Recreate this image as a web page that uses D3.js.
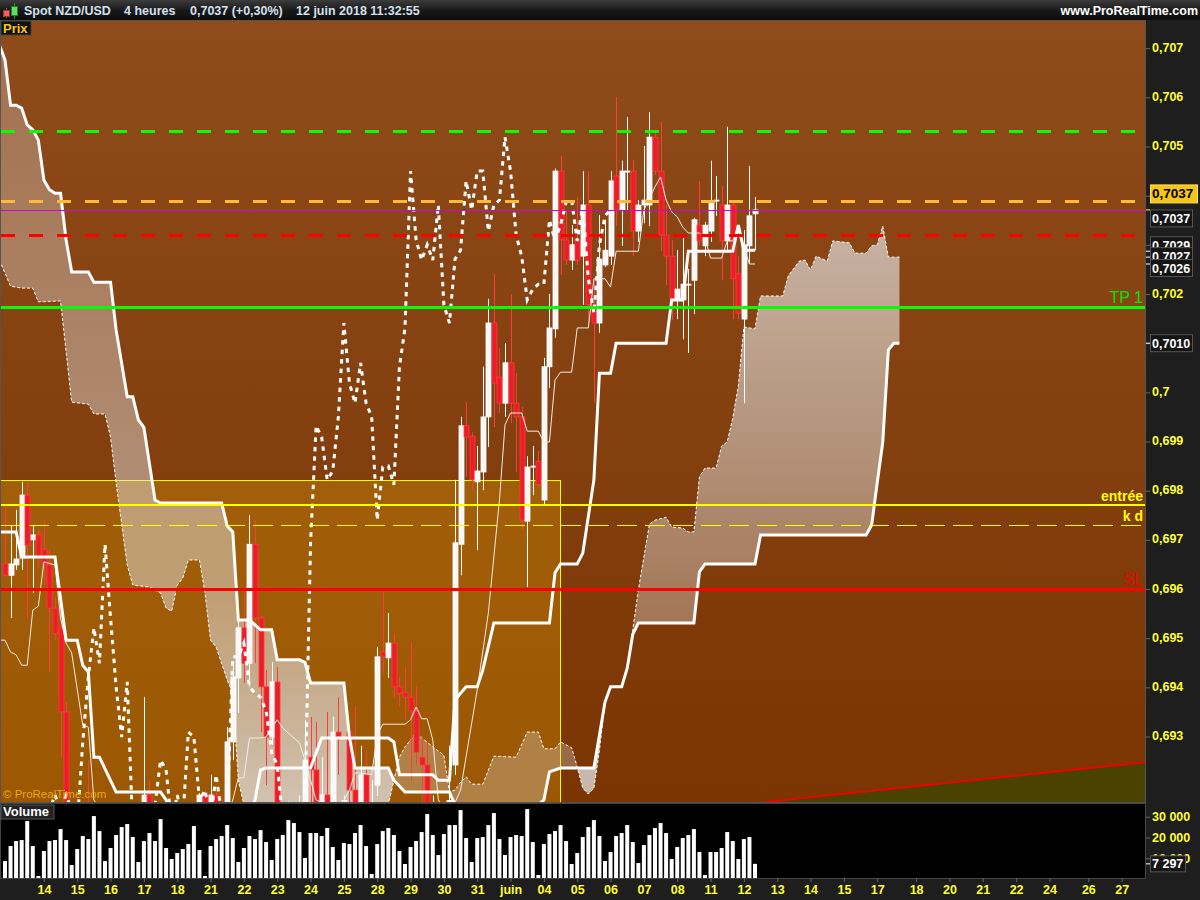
<!DOCTYPE html>
<html><head><meta charset="utf-8">
<style>
html,body{margin:0;padding:0;background:#1e1e1e;}
svg{display:block;}
text{font-family:"Liberation Sans",Arial,sans-serif;}
</style>
<script src="https://cdn.jsdelivr.net/npm/d3@7"></script>
</head><body><div id="c"></div>
<script>
// prices are stored in points: price x 100000
const opens=[69651,69628,69649,69663,69791,69700,69710,69681,69649,69561,69521,69350,69110,69060,69090,69050,69020,69060,69090,69070,69100,69120,69100,69130,69140,69130,69181,69120,69100,69120,69130,69110,69130,69120,69140,69150,69181,69140,69181,69150,69120,69289,69419,69521,69449,69691,69541,69401,69299,69411,69110,69140,69120,69150,69130,69258,69232,69100,69181,69130,69309,69160,69309,69191,69130,69222,69130,69201,69472,69460,69490,69401,69390,69380,69352,69258,69242,69130,69160,69120,69100,69242,69691,69932,69911,69818,69838,69950,70141,70031,69978,70060,69978,69950,69738,69848,69860,69781,70052,70129,70450,70310,70269,70310,70277,70381,70178,70141,70259,70277,70440,70371,70449,70450,70328,70381,70381,70519,70450,70320,70277,70188,70188,70218,70228,70340,70298,70328,70389,70381,70308,70381,70241,70149,70298,70363];
const closes=[69628,69651,69661,69791,69689,69710,69665,69649,69561,69510,69350,69110,69060,69090,69050,69020,69060,69090,69070,69100,69120,69100,69130,69140,69150,69181,69120,69100,69120,69130,69110,69130,69120,69140,69150,69181,69150,69181,69150,69120,69289,69421,69521,69449,69691,69541,69401,69299,69411,69110,69140,69120,69150,69160,69252,69232,69120,69181,69130,69309,69299,69170,69191,69130,69222,69140,69150,69462,69462,69490,69401,69388,69380,69352,69268,69242,69130,69160,69120,69090,69170,69694,69932,69909,69822,69840,69950,70141,70019,69978,70060,69978,69950,69740,69848,69850,69812,70052,70131,70450,70310,70269,70300,70269,70381,70178,70141,70271,70289,70430,70371,70450,70450,70328,70381,70391,70519,70450,70320,70277,70188,70210,70220,70220,70351,70308,70340,70387,70391,70308,70381,70231,70161,70300,70359,70371];
const highs=[69767,69730,69761,69818,69818,69728,69720,69740,69681,69584,69541,69370,69130,69130,69120,69252,69110,69130,69120,69130,69150,69150,69150,69160,69160,69380,69211,69150,69150,69155,69150,69155,69150,69160,69165,69185,69190,69222,69190,69175,69319,69449,69537,69592,69750,69740,69547,69435,69451,69441,69160,69160,69165,69180,69334,69340,69329,69258,69350,69340,69380,69180,69323,69360,69281,69272,69211,69482,69594,69551,69510,69421,69441,69490,69401,69297,69289,69180,69175,69150,69281,69822,69950,69980,69919,69891,70052,70190,70241,70090,70100,70200,70039,69970,69870,69891,69881,70070,70200,70455,70481,70371,70340,70397,70450,70450,70228,70361,70351,70450,70601,70471,70560,70473,70391,70501,70570,70527,70550,70381,70310,70289,70314,70251,70355,70430,70346,70471,70440,70420,70540,70391,70277,70330,70460,70397];
const lows=[69628,69541,69639,69639,69541,69592,69643,69608,69431,69496,69258,69049,69040,69040,69030,69000,69000,69040,69050,69050,69080,69080,69080,69110,69120,69110,69100,69080,69080,69100,69090,69100,69100,69110,69120,69130,69130,69120,69130,69100,69090,69252,69348,69409,69401,69449,69309,69201,69283,69050,69090,69100,69100,69130,69110,69160,69090,69080,69100,69110,69222,69150,69150,69110,69110,69120,69110,69179,69429,69419,69380,69360,69334,69211,69242,69150,69100,69100,69100,69060,69080,69222,69628,69828,69801,69679,69801,69889,69929,69958,69950,69938,69838,69720,69604,69791,69810,69771,70009,70111,70239,70259,70249,70259,70178,70141,69978,70121,70255,70259,70338,70298,70371,70277,70306,70344,70338,70442,70287,70218,70147,70149,70108,70080,70159,70298,70277,70306,70359,70228,70289,70149,70149,69978,70261,70289];
const volumes=[8650,15870,18270,18750,27890,15870,1440,13470,18270,18750,24040,18750,6730,14430,20680,19240,30300,23080,8650,14910,21160,25000,26450,20200,8180,18270,22120,18270,28850,14910,9620,12500,14430,16830,25490,13950,1440,15870,19240,20680,25970,19720,8180,14910,20680,19240,23560,17790,9140,19240,21160,28370,26930,22600,10100,22120,22120,20680,24530,15390,9140,17310,16830,22120,25970,15870,2400,16830,23080,24530,21160,13470,7210,15390,18270,22600,31260,21160,11540,21640,25970,25970,33180,19720,8180,19720,20200,25970,31740,19240,11540,20200,21160,20680,33660,17790,1920,16830,21640,23080,25970,18270,7210,12500,20200,25000,28370,20680,8650,12980,20680,22120,25970,17790,7690,16350,21160,24530,26930,22120,9620,15390,19720,21160,24040,12980,1920,12980,12980,14910,22600,18270,9620,19240,20200,7297];

const spanBIdx=[-1,0,1,2,3,4,5,6,7,8,9,10,11,12,15,16,19,20,22,23,24,25,27,28,39,40,41,42,44,46,48,49,53,54,55,61,62,63,69,70,72,80,81,96,97,98,100,103,106,107,108,109,111,112,113,114,124,125,126,135,136,155,156,157,158,159,160,161];
const spanB=[70706,70676,70584,70584,70578,70544,70534,70513,70432,70412,70405,70405,70310,70245,70245,70224,70224,70127,69991,69991,69944,69929,69781,69775,69775,69728,69716,69537,69537,69517,69517,69456,69456,69451,69409,69409,69299,69236,69236,69211,69187,69187,69161,69161,69171,69228,69236,69236,69236,69303,69370,69401,69401,69439,69508,69531,69531,69635,69651,69651,69710,69710,69730,69816,69899,70086,70100,70100];
const spanAIdx=[-1,1,3,5,6,10,12,15,16,18,19,20,22,23,26,28,29,30,31,32,33,35,36,37,38,40,41,42,43,69,70,71,72,74,77,79,80,81,82,83,84,86,88,92,94,96,97,99,100,102,103,104,105,106,107,108,109,111,112,113,114,116,117,119,120,122,123,124,125,126,128,129,130,131,132,133,135,136,140,141,143,144,145,146,148,149,152,153,155,156,157,158,159,161];
const spanA=[70269,70216,70212,70212,70184,70186,69980,69976,69956,69956,69909,69816,69649,69608,69604,69592,69561,69555,69608,69622,69659,69659,69592,69496,69482,69415,69388,69211,69161,69161,69211,69258,69279,69307,69279,69262,69187,69191,69207,69218,69203,69203,69260,69258,69309,69309,69275,69275,69289,69277,69238,69195,69183,69195,69272,69368,69401,69401,69439,69517,69598,69732,69740,69746,69726,69724,69716,69716,69828,69846,69846,69891,69899,69948,70013,70133,70129,70196,70196,70237,70267,70269,70249,70277,70267,70308,70304,70283,70283,70298,70300,70338,70275,70275];
const kijunIdx=[-1,2,3,9,11,13,14,15,16,17,20,28,29,30,44,45,46,47,55,57,69,70,71,77,78,80,81,82,83,85,86,88,98,99,100,103,104,106,107,109,110,119,120,122,123,131,132,133,135];
const kijun=[69716,69716,69665,69665,69496,69496,69445,69431,69258,69258,69187,69187,69171,69140,69140,69171,69232,69236,69236,69297,69297,69289,69222,69222,69211,69211,69374,69388,69401,69401,69435,69531,69531,69633,69651,69651,69673,69822,70039,70039,70100,70100,70188,70188,70287,70287,70340,70289,70289];
const tenkanIdx=[-1,0,1,2,3,4,5,6,7,9,10,11,12,14,15,16,18,40,41,42,43,44,46,47,48,49,50,53,54,56,60,62,63,64,66,67,68,72,73,74,75,76,77,78,80,82,85,87,89,90,91,93,94,96,97,98,99,100,102,103,105,106,108,109,110,114,115,117,118,119,120,121,122,123,125,126,127,129,130,131,132,133,134,135];
const tenkan=[69496,69496,69472,69466,69445,69445,69557,69565,69655,69649,69541,69490,69470,69323,69319,69171,69140,69140,69171,69216,69216,69297,69297,69299,69317,69334,69317,69287,69252,69171,69150,69191,69226,69226,69222,69303,69325,69325,69334,69360,69336,69336,69293,69171,69140,69191,69395,69551,69781,69934,69958,69958,69921,69921,69899,69899,70025,70041,70041,70131,70131,70231,70231,70214,70287,70287,70371,70418,70438,70391,70367,70357,70336,70324,70324,70314,70273,70273,70308,70308,70340,70296,70261,70261];

const trendIdx=[137,205.4];
const trendPrice=[69167,69248];
const priceTicks=[70700,70600,70500,70400,70300,70200,70100,70000,69900,69800,69700,69600,69500,69400,69300];
const hiddenTickLabels=[70400,70300,70100];
const hLines=[
 {name:"tp2",price:70531,color:"#00ff00",w:3,dash:"14,14"},
 {name:"mid",price:70390,color:"#ffb83c",w:3,dash:"14,14"},
 {name:"last",price:70371,color:"#d000e0",w:1,dash:null},
 {name:"lim",price:70320,color:"#ff0000",w:3,dash:"14,14"},
 {name:"TP 1",price:70173,color:"#00ff00",w:3,dash:null},
 {name:"entrée",price:69771,color:"#ffff00",w:2,dash:null},
 {name:"k d",price:69730,color:"#ffff00",w:1,dash:"20,8"},
 {name:"SL",price:69599,color:"#ff0000",w:3,dash:null}];
const lineLabels=[
 {t:"TP 1",price:70173,color:"#00e600",size:16,dy:-4,w:"normal"},
 {t:"entrée",price:69771,color:"#ffff00",size:14,dy:-4,w:"bold"},
 {t:"k d",price:69730,color:"#ffff00",size:14,dy:-4,w:"bold"},
 {t:"SL",price:69599,color:"#f00000",size:16,dy:-4,w:"normal"}];
const zoneTop=69821, zoneEndIdx=100;
const dayTickIdx=[7,13,19,25,31,37,43,49,55,61,67,73,79,85,91,97,103,109,115,121,127,133,139,145,151,157,164,170,176,182,188,195,201];
const dayTickLabels=["14","15","16","17","18","21","22","23","24","25","28","29","30","31","juin","04","05","06","07","08","11","12","13","14","15","17","18","20","21","22","24","26","27"];
const volTicks=[30000,20000,10000];
const priceTags=[
 {t:"0,7037",price:70371,off:8.5},
 {t:"0,7029",price:70287,off:-6},
 {t:"0,7027",price:70275,off:-1},
 {t:"0,7026",price:70261,off:4},
 {t:"0,7010",price:70100,off:0}];

const W=1200,H=900;
const x=d3.scaleLinear().domain([0,135]).range([5,755]);
const y=d3.scaleLinear().domain([70200,69600]).range([294,589]);
const vy=d3.scaleLinear().domain([0,30000]).range([879,816.7]);
const svg=d3.select("#c").append("svg").attr("width",W).attr("height",H);
const defs=svg.append("defs");
function grad(id,x1,stops){
  const g=defs.append("linearGradient").attr("id",id).attr("gradientUnits","userSpaceOnUse")
   .attr("x1",0).attr("x2",0).attr("y1",x1[0]).attr("y2",x1[1]);
  stops.forEach(s=>g.append("stop").attr("offset",s[0]).attr("stop-color",s[1]).attr("stop-opacity",s[2]===undefined?1:s[2]));
}
grad("bg",[21,802],[[0,"#904b1b"],[1,"#7a3503"]]);
grad("hd",[0,20],[[0,"#3c3c3c"],[0.5,"#1a1a1a"],[1,"#0c0c0c"]]);
grad("cl",[40,800],[[0,"#dcd8d4",0.27],[0.54,"#dcd8d4",0.5],[0.737,"#dcd8d4",0.54],[1,"#dcd8d4",0.82]]);
grad("cr",[230,620],[[0,"#dcd8d4",0.74],[1,"#dcd8d4",0.38]]);
defs.append("clipPath").attr("id","main").append("rect").attr("x",1).attr("y",21).attr("width",1144).attr("height",781);
defs.append("clipPath").attr("id","vol").append("rect").attr("x",1).attr("y",804).attr("width",1144).attr("height",74);

// panels
svg.append("rect").attr("width",W).attr("height",H).attr("fill","#1e1e1e");
svg.append("rect").attr("width",W).attr("height",20).attr("fill","url(#hd)");
svg.append("rect").attr("x",0).attr("y",20).attr("width",1146).attr("height",783).attr("fill","#555");
svg.append("rect").attr("x",1).attr("y",21).attr("width",1144).attr("height",781).attr("fill","url(#bg)");
svg.append("rect").attr("x",0).attr("y",803).attr("width",1146).attr("height",76).attr("fill","#444");
svg.append("rect").attr("x",1).attr("y",804).attr("width",1144).attr("height",74).attr("fill","#000");

const main=svg.append("g").attr("clip-path","url(#main)");
// trend area
const trendArea=d3.area().x(d=>x(d[0])).y0(810).y1(d=>y(d[1]));
const trendData=trendIdx.map((d,i)=>[d,trendPrice[i]]);
main.append("path").datum(trendData).attr("d",trendArea).attr("fill","#4a4200");
// entry zone
main.append("rect").attr("x",0).attr("width",Math.floor(x(zoneEndIdx))+.5).attr("y",Math.round(y(zoneTop))+.5).attr("height",330)
  .attr("fill","rgba(255,190,0,0.25)").attr("stroke","#ffff00").attr("stroke-width",1);
main.append("path").datum(trendData).attr("d",d3.line().x(d=>x(d[0])).y(d=>y(d[1]))).attr("fill","none").attr("stroke","#f00000").attr("stroke-width",2);

// cloud
const A=spanAIdx.map((d,i)=>[d,spanA[i]]), B=spanBIdx.map((d,i)=>[d,spanB[i]]);
const cloudLine=d3.line().x(d=>x(d[0])).y(d=>y(d[1]));
function cloud(i0,i1,fill){
  const a=A.filter(d=>d[0]>=i0&&d[0]<=i1), b=B.filter(d=>d[0]>=i0&&d[0]<=i1).reverse();
  main.append("path").attr("d",cloudLine(a.concat(b))+"Z").attr("fill",fill).attr("stroke","none");
}
cloud(-1,70,"url(#cl)");
cloud(70,81,"rgba(220,216,212,0.32)");
cloud(81,103,"rgba(220,216,212,0.32)");
cloud(103,109,"rgba(220,216,212,0.8)");
cloud(109,161,"url(#cr)");
main.append("path").attr("d",cloudLine(A)).attr("fill","none").attr("stroke","#fff").attr("stroke-width",1).attr("stroke-dasharray","3,2");

// candles
const idx=d3.range(opens.length);
const cg=main.append("g");
cg.selectAll("line.w").data(idx).join("line").attr("class","w")
  .attr("x1",i=>Math.round(x(i))+.5).attr("x2",i=>Math.round(x(i))+.5)
  .attr("y1",i=>y(highs[i])).attr("y2",i=>y(lows[i]))
  .attr("stroke",i=>closes[i]>=opens[i]?"#fff":"#ff3c3c").attr("stroke-width",1);
cg.selectAll("rect.b").data(idx).join("rect").attr("class","b")
  .attr("x",i=>Math.round(x(i))-2).attr("width",5)
  .attr("y",i=>y(Math.max(opens[i],closes[i])))
  .attr("height",i=>Math.max(1,Math.abs(y(opens[i])-y(closes[i]))))
  .attr("fill",i=>closes[i]>=opens[i]?"#f8f8f8":"#ee1c28")
  .attr("stroke",i=>closes[i]>=opens[i]?"#fff":"#ff3c3c").attr("stroke-width",.8);

// tenkan thin
main.append("path").datum(tenkanIdx.map((d,i)=>[d,tenkan[i]])).attr("d",cloudLine).attr("fill","none").attr("stroke","#f4ece4").attr("stroke-width",1);
// span B + kijun thick
main.append("path").datum(B).attr("d",cloudLine).attr("fill","none").attr("stroke","#fff").attr("stroke-width",3);
main.append("path").datum(kijunIdx.map((d,i)=>[d,kijun[i]])).attr("d",cloudLine).attr("fill","none").attr("stroke","#fff").attr("stroke-width",3);
// lagging line: closes shifted back 26 bars
const lag=closes.slice(26).map((c,i)=>[i,c]);
main.append("path").datum(lag).attr("d",cloudLine).attr("fill","none").attr("stroke","#fff").attr("stroke-width",3).attr("stroke-dasharray","4.5,5");

// horizontals, snapped to the pixel grid
const snap=d=>{const v=Math.round(y(d.price));return d.w%2?v+.5:v;};
main.selectAll("line.h").data(hLines).join("line").attr("class","h")
  .attr("x1",1).attr("x2",1145).attr("y1",snap).attr("y2",snap)
  .attr("stroke",d=>d.color).attr("stroke-width",d=>d.w).attr("stroke-dasharray",d=>d.dash);
main.selectAll("text.l").data(lineLabels).join("text").attr("class","l")
  .attr("x",1143).attr("y",d=>y(d.price)+d.dy).attr("text-anchor","end")
  .attr("fill",d=>d.color).attr("font-size",d=>d.size).attr("font-weight",d=>d.w).text(d=>d.t);
main.append("text").attr("x",3).attr("y",798).attr("fill","#e6a817").attr("font-size",11.5).text("© ProRealTime.com");

// Volume
const vg=svg.append("g").attr("clip-path","url(#vol)");
vg.selectAll("rect").data(volumes).join("rect")
  .attr("x",(d,i)=>x(i)-2).attr("width",4).attr("y",d=>vy(d)).attr("height",d=>vy(0)-vy(d)).attr("fill","#fff");

// Axes
function styleAxis(g,size){
  g.select(".domain").remove();
  g.selectAll("line").attr("stroke","#666");
  g.selectAll("text").attr("fill","#ffff33").attr("font-size",size).attr("font-weight","bold").attr("font-family",'"Liberation Sans",Arial,sans-serif');
}
const axP=d3.axisRight(y).tickValues(priceTicks).tickSize(4).tickPadding(2)
  .tickFormat(v=>hiddenTickLabels.includes(v)?"":String(v/100000).replace(".",","));
svg.append("g").attr("transform","translate(1146,0)").call(axP).call(g=>styleAxis(g,12.5)).call(g=>g.selectAll("text").attr("y",-1));
const axV=d3.axisRight(vy).tickValues(volTicks).tickSize(4).tickPadding(2).tickFormat(v=>d3.format(",")(v).replace(","," "));
svg.append("g").attr("transform","translate(1146,0)").call(axV).call(g=>styleAxis(g,12.5));
const axX=d3.axisBottom(x).tickValues(dayTickIdx).tickSize(4).tickPadding(3).tickFormat((d)=>dayTickLabels[dayTickIdx.indexOf(d)]);
svg.append("g").attr("transform","translate(0,878)").call(axX).call(g=>styleAxis(g,12.5));

// Price tags
priceTags.forEach((d,k)=>{
  const cy=y(d.price)+d.off, g=svg.append("g");
  g.append("line").attr("x1",1146).attr("x2",1150).attr("y1",y(d.price)).attr("y2",y(d.price)).attr("stroke",k==0?"#ffff33":"#fff");
  g.append("rect").attr("x",1150.5).attr("y",cy-8.5).attr("width",42).attr("height",17).attr("fill","#151515").attr("stroke","#555");
  g.append("text").attr("x",1152).attr("y",cy+4.5).attr("fill","#fff").attr("font-size",12.5).attr("font-weight","bold").text(d.t);
});
// current price tag
const curY=y(70371)-16.5;
svg.append("rect").attr("x",1150.5).attr("y",curY-8.5).attr("width",47).attr("height",18).attr("fill","#f5c518").attr("stroke","#ffe060");
svg.append("text").attr("x",1152).attr("y",curY+5).attr("fill","#000").attr("font-size",13.5).attr("font-weight","bold").text("0,7037");
// volume tag
const vt=svg.append("g");
vt.append("line").attr("x1",1146).attr("x2",1150).attr("y1",vy(7297)).attr("y2",vy(7297)).attr("stroke","#fff");
vt.append("rect").attr("x",1150.5).attr("y",vy(7297)-8).attr("width",35).attr("height",16).attr("fill","#151515").attr("stroke","#555");
vt.append("text").attr("x",1152).attr("y",vy(7297)+4.5).attr("fill","#fff").attr("font-size",12.5).attr("font-weight","bold").text("7 297");

// header
const hdr=[["Spot NZD/USD",24],["4 heures",124],["0,7037 (+0,30%)",190],["12 juin 2018 11:32:55",296]];
svg.selectAll("text.hd").data(hdr).join("text").attr("class","hd").attr("x",d=>d[1]).attr("y",15)
  .attr("fill","#d4e0ee").attr("font-size",12.5).attr("font-weight","bold").text(d=>d[0]);
svg.append("text").attr("x",1198).attr("y",15).attr("text-anchor","end").attr("fill","#fff").attr("font-size",12.5).attr("font-weight","bold").text("www.ProRealTime.com");
// icon
svg.append("line").attr("x1",6.5).attr("x2",6.5).attr("y1",8).attr("y2",18).attr("stroke","#c04040");
svg.append("rect").attr("x",3.5).attr("y",10.5).attr("width",6).attr("height",6).attr("fill","#f06060").attr("stroke","#a03030");
svg.append("line").attr("x1",14.5).attr("x2",14.5).attr("y1",3).attr("y2",19).attr("stroke","#20a020");
svg.append("rect").attr("x",11.5).attr("y",6.5).attr("width",6).attr("height",9).attr("fill","#60e060").attr("stroke","#208020");

// panel labels
svg.append("rect").attr("x",1).attr("y",21).attr("width",30).attr("height",14).attr("fill","#111").attr("stroke","#444");
svg.append("text").attr("x",3).attr("y",33).attr("fill","#f5c518").attr("font-size",13).attr("font-weight","bold").text("Prix");
svg.append("rect").attr("x",1).attr("y",805).attr("width",53).attr("height",14).attr("fill","#222").attr("stroke","#555");
svg.append("text").attr("x",3).attr("y",816).attr("fill","#fff").attr("font-size",13).attr("font-weight","bold").text("Volume");
</script></body></html>
